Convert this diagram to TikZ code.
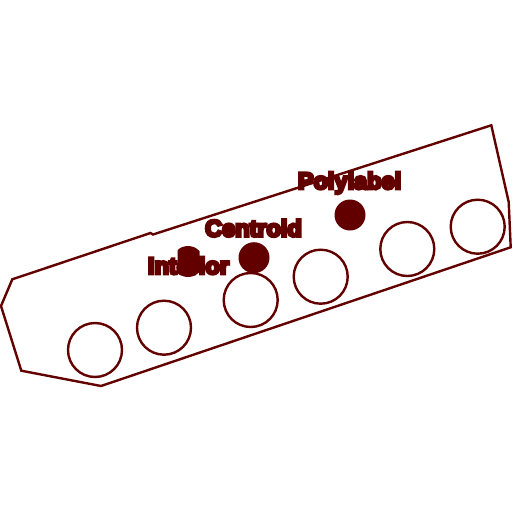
\documentclass[tikz,border=0pt]{standalone}
\usepackage{fontspec}
\newfontfamily\lab{Liberation Sans Bold}[FakeBold=12]
\definecolor{dr}{RGB}{98,0,0}
\begin{document}
\begin{tikzpicture}[x=1pt,y=-1pt,
  ring/.style={circle,draw=dr,line width=2.4pt,minimum size=54pt,inner sep=0pt},
  dot/.style={circle,fill=dr,minimum size=31pt,inner sep=0pt},
  lbl/.style={text=dr,font=\lab\fontsize{23.5}{23.5}\selectfont,anchor=base,inner sep=0pt}]
\useasboundingbox (0,0) rectangle (512,512);
\draw[dr,line width=2.4pt,line join=miter]
  (12.3,279.3) -- (1,306) -- (21.3,370.7) -- (101,386) -- (510.7,247.3)
  -- (508.7,202) -- (491.3,125.3) -- (153,234.5) -- (150.5,233) -- cycle;
\node[ring] (c1) at (95,350) {};
\node[ring] (c2) at (164,327.7) {};
\node[ring] (c3) at (250.7,300) {};
\node[ring] (c4) at (320.7,276.7) {};
\node[ring] (c5) at (407.3,249) {};
\node[ring] (c6) at (477.7,226.7) {};
\begin{scope}
  \clip (177.5,240) rectangle (199.5,285);
  \node[dot] (dint) at (188,261.5) {};
\end{scope}
\node[dot] (dcen) at (254,257.7) {};
\node[dot] (dpol) at (350,215) {};
\node[lbl] (tpol) at (349.5,189) {Polylabel};
\node[lbl] (tcen) at (253.5,236.5) {Centroid};
\node[lbl] (tint) at (188.5,274) {Interior};
\end{tikzpicture}
\end{document}
